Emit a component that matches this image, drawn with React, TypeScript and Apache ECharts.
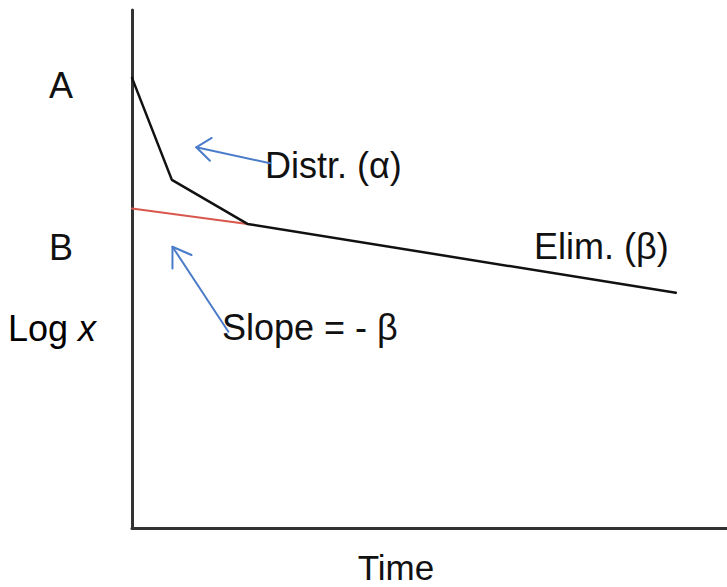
import React, { useEffect, useRef } from "react";
import * as echarts from "echarts";

// Concentration curve (log scale, arbitrary units)
const curveTime = [0, 6.7, 19.4, 91.4];
const curveLogX = [86.9, 67.2, 58.7, 45.4];
// Back-extrapolated elimination line
const extrapTime = [0, 19.4];
const extrapLogX = [61.7, 58.7];
// Annotation arrows (shaft tail -> tip) and arrowheads (barb, tip, barb)
const arrowDistrShaft = [[23.2, 70.4], [10.8, 73.5]];
const arrowDistrHead = [[13.4, 75.3], [10.8, 73.5], [13.1, 70.9]];
const arrowSlopeShaft = [[16.2, 37.9], [6.8, 54.3]];
const arrowSlopeHead = [[10.0, 52.7], [6.8, 54.3], [6.8, 50.1]];

const FONT = "'Liberation Sans', Arial, Helvetica, sans-serif";

export default function App() {
  const ref = useRef<HTMLDivElement>(null);
  useEffect(() => {
    if (!ref.current) return;
    const chart = echarts.init(ref.current, undefined, { renderer: "svg" });
    const zip = (a: number[], b: number[]) => a.map((v, i) => [v, b[i]]);
    const lineSeries = (data: number[][], color: string, width: number) => ({
      type: "line",
      data,
      symbol: "none",
      clip: false,
      silent: true,
      lineStyle: { color, width, cap: "round", join: "round" },
    });
    const textStyle = (text: string, x: number, y: number, align = "left", size = 36) => ({
      type: "text",
      x,
      y,
      silent: true,
      style: {
        text,
        fill: "#111",
        fontSize: size,
        fontFamily: FONT,
        align,
        verticalAlign: "middle",
      },
    });
    chart.setOption({
      animation: false,
      backgroundColor: "#fff",
      grid: { left: 132, right: 0, top: 10, bottom: 59 },
      xAxis: {
        type: "value",
        min: 0,
        max: 100,
        axisLine: { show: true, onZero: false, lineStyle: { color: "#333", width: 3 } },
        axisTick: { show: false },
        axisLabel: { show: false },
        splitLine: { show: false },
      },
      yAxis: {
        type: "value",
        min: 0,
        max: 100,
        axisLine: { show: true, onZero: false, lineStyle: { color: "#333", width: 3 } },
        axisTick: { show: false },
        axisLabel: { show: false },
        splitLine: { show: false },
      },
      series: [
        lineSeries(zip(extrapTime, extrapLogX), "#d9574c", 2),
        lineSeries(zip(curveTime, curveLogX), "#111", 2.5),
        lineSeries(arrowDistrShaft, "#4a7cc9", 2),
        lineSeries(arrowDistrHead, "#4a7cc9", 2),
        lineSeries(arrowSlopeShaft, "#4a7cc9", 2),
        lineSeries(arrowSlopeHead, "#4a7cc9", 2),
      ],
      graphic: [
        textStyle("A", 61, 85, "center"),
        textStyle("B", 61, 247, "center"),
        {
          type: "text",
          x: 8,
          y: 328,
          silent: true,
          style: {
            text: "{a|Log }{b|x}",
            verticalAlign: "middle",
            rich: {
              a: { fontSize: 36, fontFamily: FONT, color: "#111" },
              b: { fontSize: 36, fontFamily: FONT, fontStyle: "italic", color: "#111" },
            },
          },
        },
        textStyle("Distr. (α)", 265, 165),
        textStyle("Elim. (β)", 534, 246),
        textStyle("Slope = - β", 222, 327),
        textStyle("Time", 396, 567, "center", 35),
      ],
    });
    return () => chart.dispose();
  }, []);
  return <div ref={ref} style={{ width: 727, height: 587, position: "absolute", left: 0, top: 0 }} />;
}
